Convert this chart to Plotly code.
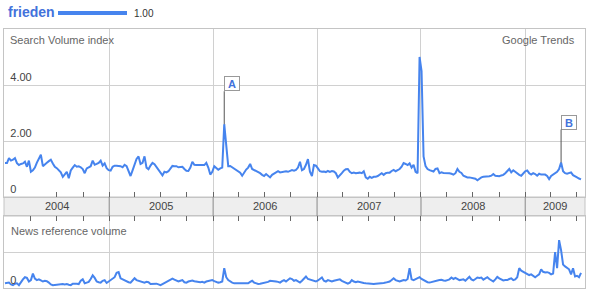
import plotly.graph_objects as go
import pandas as pd

# ---------------- data ----------------
term = "frieden"
term_avg = "1.00"
start_week = "2004-01-01"
years = [2004, 2005, 2006, 2007, 2008, 2009]
x_range = ["2003-12-28 12:00", "2009-07-30"]

search_volume = [
    1.21, 1.21, 1.39, 1.30, 1.33, 1.39, 1.21, 1.14, 1.18, 1.20,
    1.26, 1.08, 1.30, 0.90, 0.95, 1.05, 1.23, 1.39, 1.51, 1.10,
    1.18, 1.22, 1.28, 1.33, 1.20, 1.08, 1.03, 0.95, 0.88, 0.72,
    0.80, 0.90, 0.67, 0.95, 1.05, 1.14, 1.08, 1.10, 1.06, 1.00,
    0.85, 1.02, 1.06, 1.10, 1.30, 1.15, 1.18, 1.22, 1.30, 1.12,
    1.20, 1.03, 0.96, 0.94, 1.08, 1.12, 1.12, 1.12, 1.10, 1.06,
    1.15, 1.10, 0.95, 0.75, 0.95, 1.20, 1.36, 1.45, 1.18, 1.22,
    1.45, 1.05, 0.99, 1.12, 1.22, 1.17, 1.08, 0.98, 0.90, 0.77,
    0.90, 0.88, 0.92, 1.02, 1.11, 1.10, 1.10, 1.06, 1.08, 1.08,
    1.00, 0.94, 0.93, 1.05, 1.26, 1.15, 1.14, 1.14, 1.12, 1.12,
    1.14, 1.22, 1.05, 0.80, 0.90, 1.10, 1.02, 0.97, 1.02, 1.05,
    2.60, 1.75, 1.10, 1.11, 1.06, 1.01, 0.95, 0.90, 0.87, 0.76,
    0.88, 0.98, 1.05, 1.18, 1.00, 0.96, 0.92, 0.91, 0.85, 0.79,
    0.75, 0.82, 0.75, 0.70, 0.79, 0.83, 0.86, 0.92, 0.88, 0.90,
    0.92, 0.92, 0.90, 0.94, 0.96, 0.94, 0.97, 1.05, 1.26, 0.96,
    1.00, 1.15, 1.35, 0.90, 0.75, 1.14, 1.12, 1.02, 0.92, 0.90,
    0.91, 0.89, 0.93, 0.90, 0.93, 0.91, 0.85, 0.70, 0.76, 0.85,
    0.94, 0.99, 1.00, 0.90, 0.85, 0.87, 0.85, 0.86, 0.87, 0.85,
    0.92, 0.70, 0.65, 0.72, 0.68, 0.72, 0.72, 0.75, 0.80, 0.85,
    0.79, 0.85, 0.87, 0.87, 0.93, 0.97, 0.92, 0.96, 1.00, 1.08,
    1.21, 1.18, 1.14, 1.20, 1.05, 1.15, 0.90, 0.85, 5.00, 4.50,
    1.45, 1.10, 1.00, 0.96, 0.92, 0.91, 1.00, 1.02, 0.85, 0.88,
    0.86, 0.86, 0.86, 0.85, 0.83, 0.80, 0.85, 1.00, 0.90, 0.86,
    0.76, 0.72, 0.70, 0.70, 0.69, 0.67, 0.65, 0.60, 0.66, 0.70,
    0.72, 0.72, 0.72, 0.74, 0.76, 0.82, 0.76, 0.74, 0.74, 0.77,
    0.79, 0.85, 0.93, 1.00, 0.88, 0.95, 0.90, 0.83, 0.79, 0.76,
    0.85, 0.92, 0.95, 0.85, 0.80, 0.85, 0.82, 0.76, 0.83, 0.80,
    0.80, 0.80, 0.75, 0.64, 0.75, 0.80, 0.85, 0.90, 1.00, 1.23,
    0.92, 0.85, 0.83, 0.85, 0.88, 0.78, 0.75, 0.70, 0.66, 0.63,
]

news_volume = [
    0.13, 0.14, 0.15, 0.10, 0.08, 0.12, 0.13, 0.08, 0.18, 0.24,
    0.30, 0.28, 0.18, 0.22, 0.40, 0.26, 0.22, 0.24, 0.21, 0.18,
    0.20, 0.19, 0.15, 0.10, 0.08, 0.09, 0.08, 0.09, 0.10, 0.11,
    0.10, 0.11, 0.09, 0.08, 0.12, 0.13, 0.12, 0.11, 0.20, 0.24,
    0.13, 0.15, 0.17, 0.25, 0.35, 0.28, 0.18, 0.16, 0.15, 0.20,
    0.22, 0.14, 0.18, 0.22, 0.25, 0.30, 0.42, 0.44, 0.27, 0.24,
    0.22, 0.19, 0.16, 0.15, 0.20, 0.27, 0.22, 0.20, 0.18, 0.16,
    0.15, 0.17, 0.16, 0.11, 0.12, 0.13, 0.12, 0.10, 0.08, 0.11,
    0.14, 0.17, 0.20, 0.22, 0.26, 0.23, 0.20, 0.18, 0.20, 0.22,
    0.16, 0.15, 0.18, 0.20, 0.21, 0.19, 0.18, 0.15, 0.16, 0.17,
    0.15, 0.18, 0.20, 0.21, 0.22, 0.19, 0.17, 0.15, 0.16, 0.18,
    0.55, 0.30, 0.22, 0.18, 0.15, 0.13, 0.13, 0.13, 0.14, 0.15,
    0.15, 0.14, 0.13, 0.17, 0.20, 0.15, 0.12, 0.11, 0.12, 0.13,
    0.13, 0.14, 0.17, 0.20, 0.20, 0.20, 0.18, 0.17, 0.15, 0.19,
    0.22, 0.18, 0.24, 0.27, 0.25, 0.20, 0.22, 0.18, 0.15, 0.20,
    0.25, 0.32, 0.25, 0.23, 0.22, 0.19, 0.18, 0.21, 0.26, 0.29,
    0.20, 0.18, 0.22, 0.20, 0.18, 0.20, 0.22, 0.23, 0.24, 0.20,
    0.17, 0.14, 0.12, 0.15, 0.22, 0.18, 0.16, 0.18, 0.16, 0.15,
    0.14, 0.13, 0.12, 0.11, 0.11, 0.11, 0.12, 0.12, 0.13, 0.14,
    0.14, 0.15, 0.16, 0.18, 0.22, 0.27, 0.22, 0.19, 0.18, 0.20,
    0.22, 0.21, 0.25, 0.55, 0.24, 0.22, 0.24, 0.27, 0.30, 0.25,
    0.22, 0.18, 0.16, 0.15, 0.17, 0.18, 0.20, 0.21, 0.22, 0.23,
    0.21, 0.20, 0.22, 0.24, 0.29, 0.25, 0.28, 0.24, 0.22, 0.23,
    0.24, 0.20, 0.26, 0.31, 0.24, 0.21, 0.25, 0.29, 0.28, 0.29,
    0.23, 0.26, 0.30, 0.25, 0.22, 0.18, 0.24, 0.31, 0.27, 0.24,
    0.21, 0.22, 0.22, 0.25, 0.27, 0.22, 0.24, 0.30, 0.55, 0.48,
    0.45, 0.43, 0.40, 0.36, 0.38, 0.35, 0.30, 0.34, 0.38, 0.52,
    0.45, 0.43, 0.44, 0.42, 0.38, 0.40, 1.00, 0.55, 1.33, 1.05,
    0.65, 0.60, 0.57, 0.52, 0.38, 0.55, 0.32, 0.34, 0.30, 0.42,
]

search_ticks = [0, 2, 4]
search_tick_text = ["0", "2.00", "4.00"]
news_ticks = [0, 1]
news_tick_text = ["0", ""]

# annotation letters and the week index of the peak they mark
markers = [("A", 110), ("B", 279)]

# ---------------- layout helpers ----------------
W, H = 590, 294
def px(x):
    return x / W
def py(y):
    return 1 - y / H

weeks = pd.date_range(start_week, periods=len(search_volume), freq="7D")

BLUE = "#4684ee"
TXT_BLUE = "#4272db"
GRID = "#d0d0d0"
BORDER = "#c4c4c4"
FONT = "Arial, 'Liberation Sans', sans-serif"

fig = go.Figure()
fig.add_trace(go.Scatter(x=weeks, y=search_volume, mode="lines",
                         line=dict(color=BLUE, width=2), xaxis="x", yaxis="y",
                         hoverinfo="skip", showlegend=False))
fig.add_trace(go.Scatter(x=weeks, y=news_volume, mode="lines",
                         line=dict(color=BLUE, width=2), xaxis="x2", yaxis="y2",
                         hoverinfo="skip", showlegend=False))

year_starts = [f"{y}-01-01" for y in years]

common_x = dict(
    type="date", range=x_range, showticklabels=False,
    tickmode="array", tickvals=year_starts, ticks="",
    showgrid=True, gridcolor=GRID, gridwidth=1,
    showline=True, linecolor=BORDER, linewidth=1, mirror=True,
    minor=dict(tickmode="linear", tick0="2004-01-01", dtick="M3",
               ticks="inside", ticklen=5, tickcolor="#666666", tickwidth=1,
               showgrid=False),
    zeroline=False, fixedrange=True,
)

top_bottom, top_top = 197, 29
band_bottom = 216
news_bottom = 288

fig.update_layout(
    width=W, height=H,
    margin=dict(l=0, r=0, t=0, b=0),
    paper_bgcolor="white", plot_bgcolor="white",
    font=dict(family=FONT, color="#444444", size=11),
    xaxis=dict(domain=[px(4), px(585)], anchor="y", **common_x),
    yaxis=dict(domain=[py(top_bottom), py(top_top)], range=[0, 6],
               tickmode="array", tickvals=search_ticks, ticktext=search_tick_text,
               ticks="", ticklabelposition="inside top", ticklabelstandoff=5,
               tickfont=dict(size=11, color="#444444", family=FONT),
               showgrid=True, gridcolor=GRID, zeroline=False,
               showline=True, linecolor=BORDER, mirror=True, fixedrange=True),
    xaxis2=dict(domain=[px(4), px(585)], anchor="y2", side="top", matches="x", **common_x),
    yaxis2=dict(domain=[py(news_bottom), py(band_bottom)], range=[0, 2],
                tickmode="array", tickvals=news_ticks, ticktext=news_tick_text,
                ticks="", ticklabelposition="inside top", ticklabelstandoff=5,
                tickfont=dict(size=11, color="#444444", family=FONT),
                showgrid=True, gridcolor=GRID, zeroline=False,
                showline=True, linecolor=BORDER, mirror=True, fixedrange=True),
)

shapes = []
# year band
shapes.append(dict(type="rect", xref="paper", yref="paper",
                   x0=px(4), x1=px(585), y0=py(band_bottom), y1=py(top_bottom),
                   fillcolor="#eeeeee", line=dict(color=BORDER, width=1), layer="below"))
for ys in year_starts[1:]:
    shapes.append(dict(type="line", xref="x", yref="paper", x0=ys, x1=ys,
                       y0=py(band_bottom), y1=py(top_bottom),
                       line=dict(color="#888888", width=1)))
# legend swatch
shapes.append(dict(type="line", xref="paper", yref="paper",
                   x0=px(58), x1=px(127), y0=py(13), y1=py(13),
                   line=dict(color=BLUE, width=4)))
fig.update_layout(shapes=shapes)

ann = []
# year labels centred in visible part of each year
rs, re_ = pd.Timestamp(x_range[0]), pd.Timestamp(x_range[1])
for y in years:
    a = max(pd.Timestamp(f"{y}-01-01"), rs)
    b = min(pd.Timestamp(f"{y + 1}-01-01"), re_)
    mid = a + (b - a) / 2
    ann.append(dict(x=mid, y=py((top_bottom + band_bottom) / 2), xref="x", yref="paper",
                    text=str(y), showarrow=False, font=dict(size=11, color="#444444"),
                    xanchor="center", yanchor="middle"))

ann.append(dict(x=px(6), y=py(12), xref="paper", yref="paper", text=f"<b>{term}</b>",
                showarrow=False, xanchor="left", yanchor="middle",
                font=dict(size=14, color=TXT_BLUE)))
ann.append(dict(x=px(132), y=py(13), xref="paper", yref="paper", text=term_avg,
                showarrow=False, xanchor="left", yanchor="middle",
                font=dict(size=10, color="#333333")))
ann.append(dict(x=px(8), y=py(40), xref="paper", yref="paper", text="Search Volume index",
                showarrow=False, xanchor="left", yanchor="middle",
                font=dict(size=11, color="#666666")))
ann.append(dict(x=px(577), y=py(40), xref="paper", yref="paper", text="Google Trends",
                showarrow=False, xanchor="right", yanchor="middle",
                font=dict(size=11, color="#666666")))
ann.append(dict(x=px(9), y=py(231), xref="paper", yref="paper", text="News reference volume",
                showarrow=False, xanchor="left", yanchor="middle",
                font=dict(size=11, color="#666666")))

for letter, idx in markers:
    ann.append(dict(x=weeks[idx], y=search_volume[idx], xref="x", yref="y",
                    text=f"<b>{letter}</b>", showarrow=True, arrowhead=0, arrowwidth=1,
                    arrowcolor="#555555", ax=0, ay=-33, xanchor="left", yanchor="bottom",
                    width=12, height=11, align="center", valign="middle",
                    bgcolor="white", bordercolor="#999999", borderwidth=1, borderpad=1,
                    font=dict(size=11, color=TXT_BLUE)))

fig.update_layout(annotations=ann)

fig.write_html("out.html")
